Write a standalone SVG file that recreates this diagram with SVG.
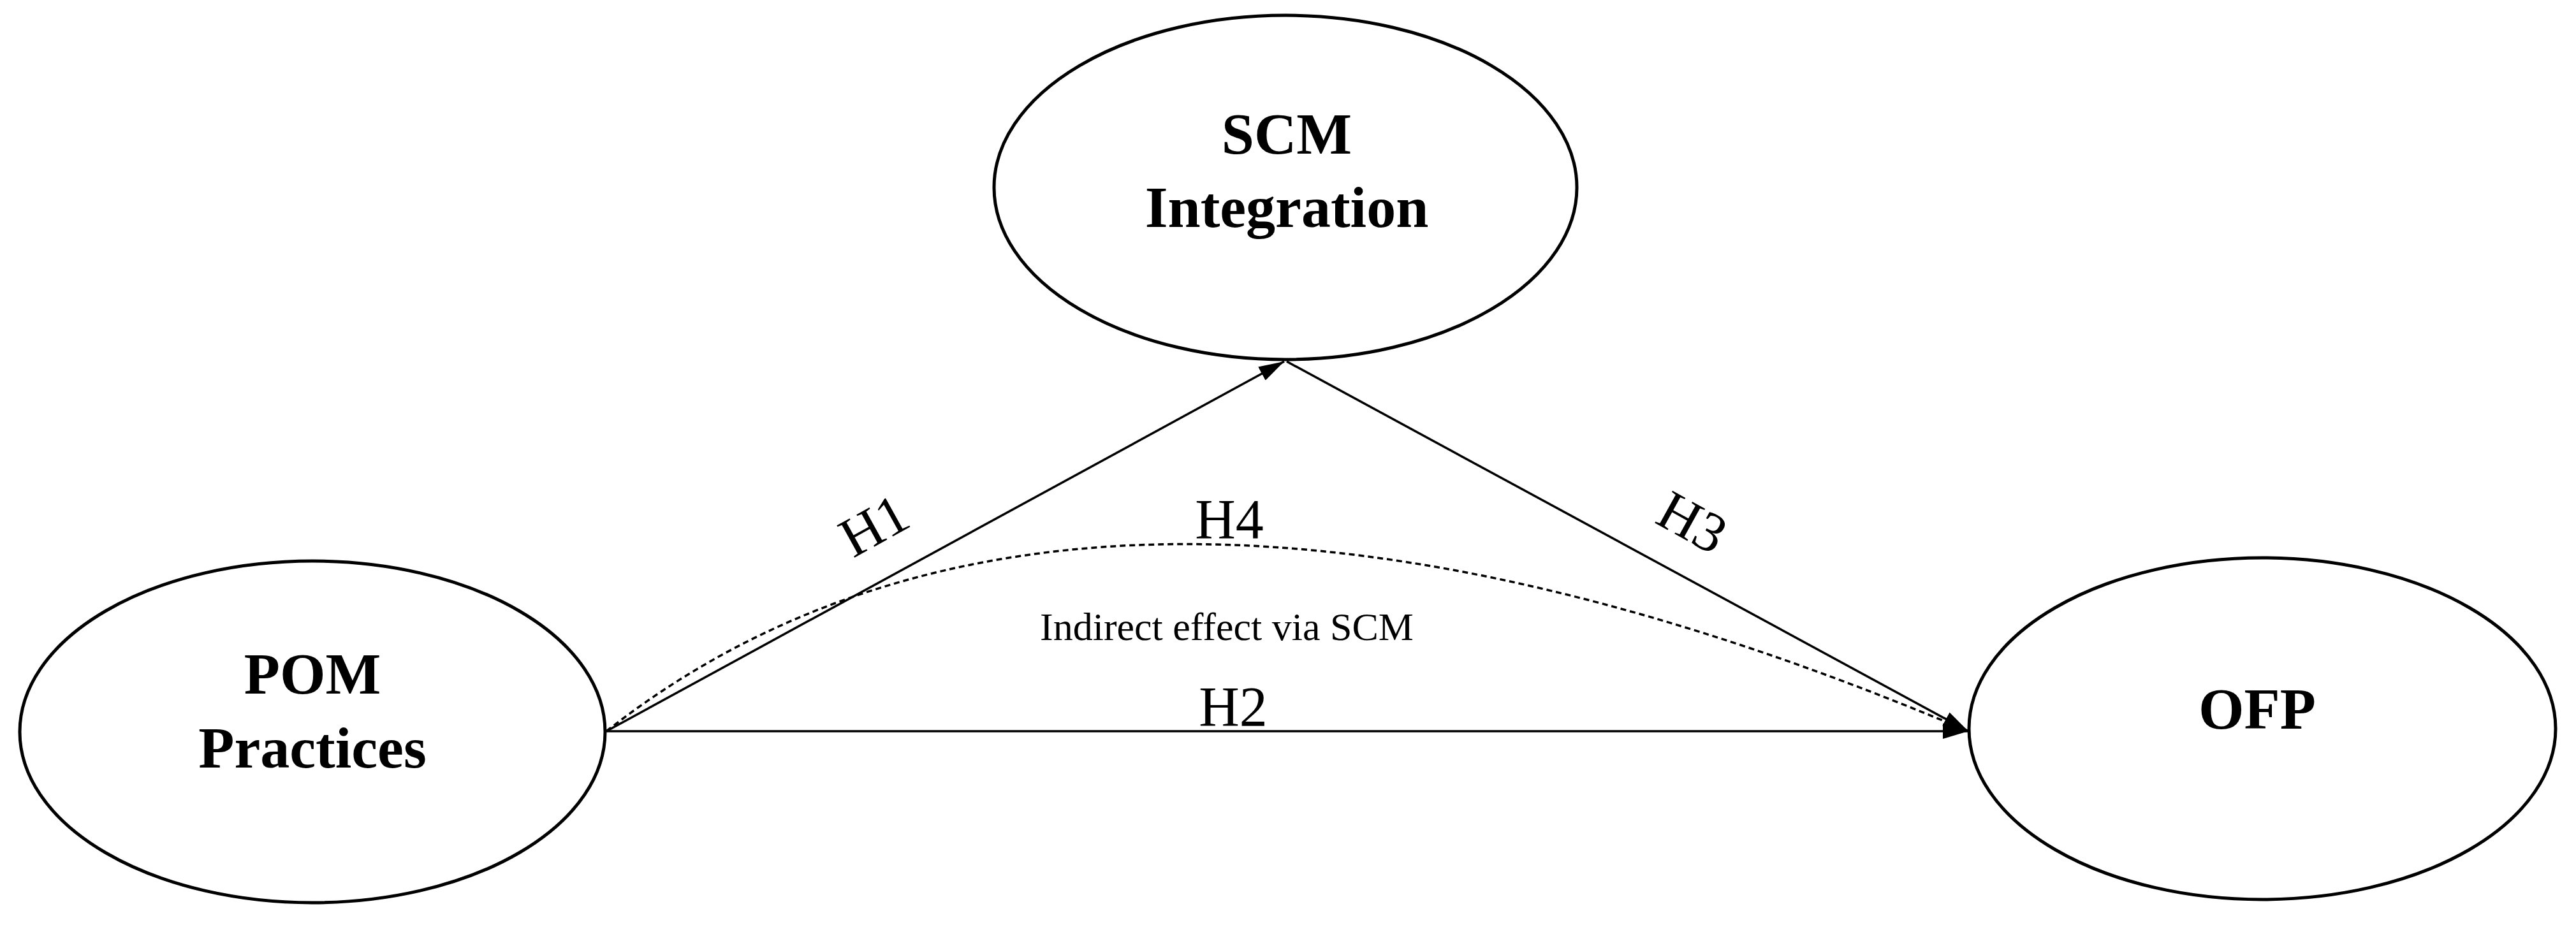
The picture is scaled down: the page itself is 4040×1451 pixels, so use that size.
<svg xmlns="http://www.w3.org/2000/svg" width="4040" height="1451" viewBox="0 0 4040 1451">
<style>
.node{fill:#fff;stroke:#000;stroke-width:5}
.lbl{font-family:"Liberation Serif",serif;font-weight:bold;font-size:92px;text-anchor:middle}
.h{font-family:"Liberation Serif",serif;font-size:88px;text-anchor:middle}
.edge{stroke:#000;stroke-width:3.5;fill:none}
</style>
<defs>
<marker id="arr" viewBox="0 0 10 10" refX="10" refY="5" markerWidth="10" markerHeight="8" markerUnits="userSpaceOnUse" orient="auto" style="overflow:visible">
<path d="M0,0 L10,5 L0,10 z" fill="#000" transform="scale(1)"/>
</marker>
<marker id="a" viewBox="0 0 40 24" refX="40" refY="12" markerWidth="40" markerHeight="24" markerUnits="userSpaceOnUse" orient="auto"><path d="M0,0 L40,12 L0,24 z" fill="#000"/></marker>
</defs>
<g id="connectors">
<line class="edge" x1="951" y1="1147" x2="2014" y2="567" marker-end="url(#a)"/>
<line class="edge" x1="2018" y1="567" x2="3087" y2="1147" marker-end="url(#a)"/>
<line class="edge" x1="951" y1="1147" x2="3087" y2="1147" marker-end="url(#a)"/>
<path class="edge" d="M951,1147 Q1700,560 3087,1147" stroke-dasharray="9,6" stroke-width="3"/>
<text class="h" transform="translate(1385,850) rotate(-29)">H1</text>
<text class="h" transform="translate(2640,845) rotate(29)">H3</text>
<text class="h" x="1928" y="844">H4</text>
<text class="h" x="1934" y="1138">H2</text>
<text class="h" x="1924" y="1004" style="font-size:62px">Indirect effect via SCM</text>
</g>
<g id="scm"><ellipse class="node" cx="2016" cy="294" rx="457" ry="270"/><text class="lbl" x="2018" y="241">SCM</text><text class="lbl" x="2018" y="356">Integration</text></g>
<g id="pom"><ellipse class="node" cx="490" cy="1148" rx="459" ry="268"/><text class="lbl" x="490" y="1088">POM</text><text class="lbl" x="490" y="1204">Practices</text></g>
<g id="ofp"><ellipse class="node" cx="3548" cy="1143" rx="460" ry="268"/><text class="lbl" x="3540" y="1143">OFP</text></g>
</svg>
